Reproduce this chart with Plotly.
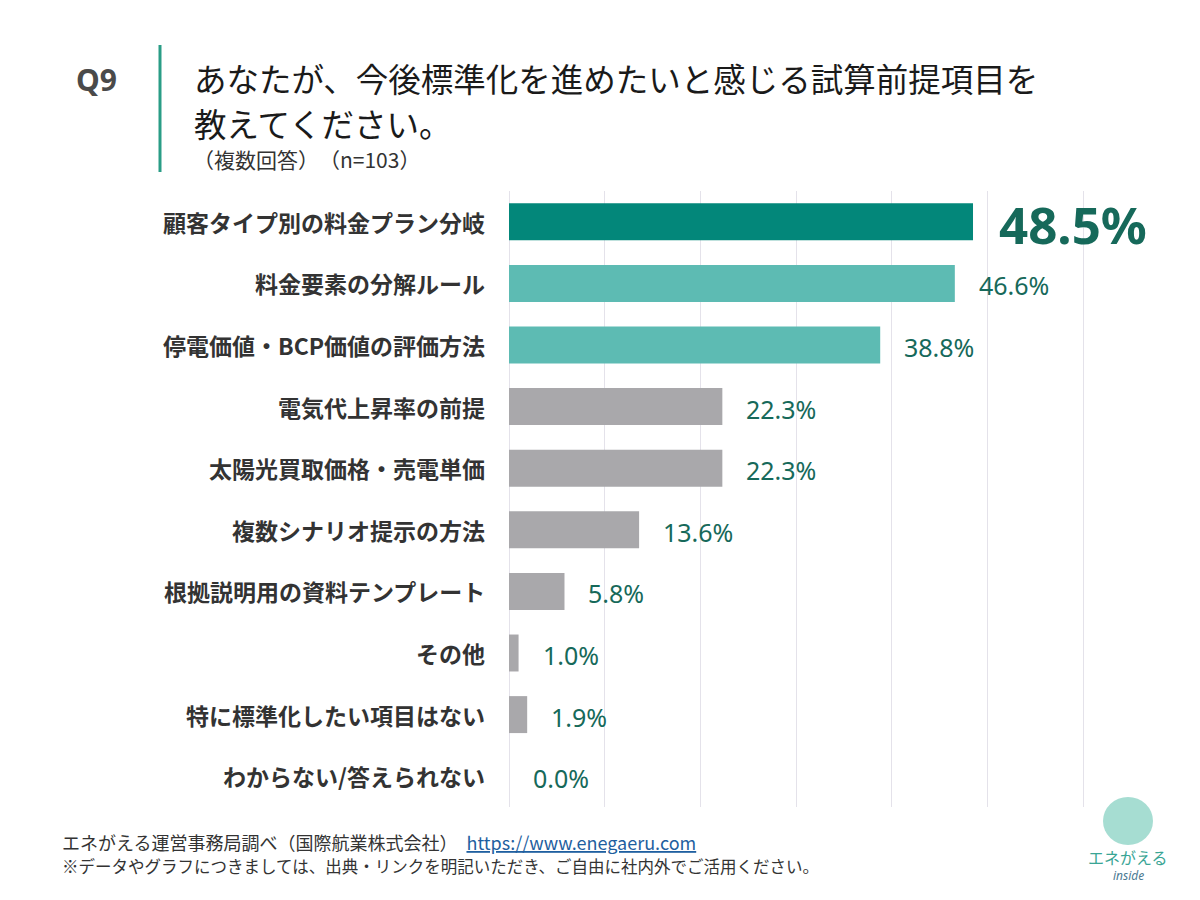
import plotly.graph_objects as go

categories = [
    "顧客タイプ別の料金プラン分岐",
    "料金要素の分解ルール",
    "停電価値・BCP価値の評価方法",
    "電気代上昇率の前提",
    "太陽光買取価格・売電単価",
    "複数シナリオ提示の方法",
    "根拠説明用の資料テンプレート",
    "その他",
    "特に標準化したい項目はない",
    "わからない/答えられない",
]
values = [48.5, 46.6, 38.8, 22.3, 22.3, 13.6, 5.8, 1.0, 1.9, 0.0]
bar_colors = ["#03877a", "#5dbbb3", "#5dbbb3"] + ["#a9a8ab"] * 7

JP = "Noto Sans CJK JP"
NUM = "Noto Sans"
LABEL_COLOR = "#16695a"

W, H = 1200, 900
ML, MR, MT, MB = 509, 50, 191, 93
PW, PH = W - ML - MR, H - MT - MB

def px2paper(px, py):
    return (px - ML) / PW, 1 - (py - MT) / PH

fig = go.Figure()
fig.add_trace(go.Bar(
    x=values, y=categories, orientation="h",
    marker=dict(color=bar_colors, line=dict(width=0)),
    width=0.6, hoverinfo="skip", cliponaxis=False,
))

annotations = []
for i, (c, v) in enumerate(zip(categories, values)):
    annotations.append(dict(
        x=0, y=c, xref="paper", yref="y", text=c, showarrow=False,
        xanchor="right", yanchor="middle", xshift=-22,
        font=dict(family=JP, size=23, color="#333333", weight="bold"),
    ))
    if i == 0:
        annotations.append(dict(
            x=v, y=c, xref="x", yref="y", text=f"{v:.1f}%", showarrow=False,
            xanchor="left", yanchor="middle", xshift=24, yshift=-2,
            font=dict(family=NUM, size=51, color=LABEL_COLOR, weight="bold"),
        ))
    else:
        annotations.append(dict(
            x=v, y=c, xref="x", yref="y", text=f"{v:.1f}%", showarrow=False,
            xanchor="left", yanchor="middle", xshift=22, yshift=-2,
            font=dict(family=NUM, size=25, color=LABEL_COLOR),
        ))

def pa(px, py, text, font, xanchor="left", align="left"):
    x, y = px2paper(px, py)
    return dict(x=x, y=y, xref="paper", yref="paper", text=text, showarrow=False,
                xanchor=xanchor, yanchor="middle", align=align, font=font)

annotations += [
    pa(74, 80, "<b>Q9</b>", dict(family=NUM, size=30, color="#4a4a4a")),
    pa(192, 78, "あなたが、今後標準化を進めたいと感じる試算前提項目を",
       dict(family=JP, size=32.5, color="#1a1a1a")),
    pa(192, 122, "教えてください。", dict(family=JP, size=32.5, color="#1a1a1a")),
    pa(191, 159, "（複数回答）　（n=103）", dict(family=JP, size=21, color="#333333")),
    pa(60, 842, "エネがえる運営事務局調べ（国際航業株式会社）　<span style='color:#1f5fa0'><u>https://www.enegaeru.com</u></span>",
       dict(family=JP, size=18, color="#333333")),
    pa(60, 866, "※データやグラフにつきましては、出典・リンクを明記いただき、ご自由に社内外でご活用ください。",
       dict(family=JP, size=16.5, color="#333333")),
    pa(1128, 857, "エネがえる", dict(family=JP, size=16, color="#3aa595"), xanchor="center"),
    pa(1128, 875, "<i>inside</i>", dict(family=NUM, size=12, color="#4b7a92"), xanchor="center"),
]

x0, y0 = px2paper(160, 45)
x1, y1 = px2paper(160, 172)
cx0, cy0 = px2paper(1103, 797)
cx1, cy1 = px2paper(1153, 845)
shapes = [
    dict(type="line", xref="paper", yref="paper", x0=x0, y0=y0, x1=x1, y1=y1,
         line=dict(color="#2a9d86", width=3)),
    dict(type="circle", xref="paper", yref="paper", x0=cx0, y0=cy0, x1=cx1, y1=cy1,
         fillcolor="#a6ddd2", line=dict(width=0), layer="above"),
]

fig.update_layout(
    width=W, height=H,
    margin=dict(l=ML, r=MR, t=MT, b=MB),
    paper_bgcolor="#ffffff", plot_bgcolor="#ffffff",
    showlegend=False,
    xaxis=dict(range=[0, 67], tickvals=[0, 10, 20, 30, 40, 50, 60], showgrid=True,
               gridcolor="#e4e2ea", gridwidth=1,
               showticklabels=False, zeroline=True, zerolinecolor="#e4e2ea", zerolinewidth=1,
               showline=False, fixedrange=True),
    yaxis=dict(type="category", range=[len(categories) - 0.5, -0.5], autorange=False,
               showticklabels=False, showgrid=False, showline=False, fixedrange=True),
    annotations=annotations,
    shapes=shapes,
)

fig.write_html("out.html")
